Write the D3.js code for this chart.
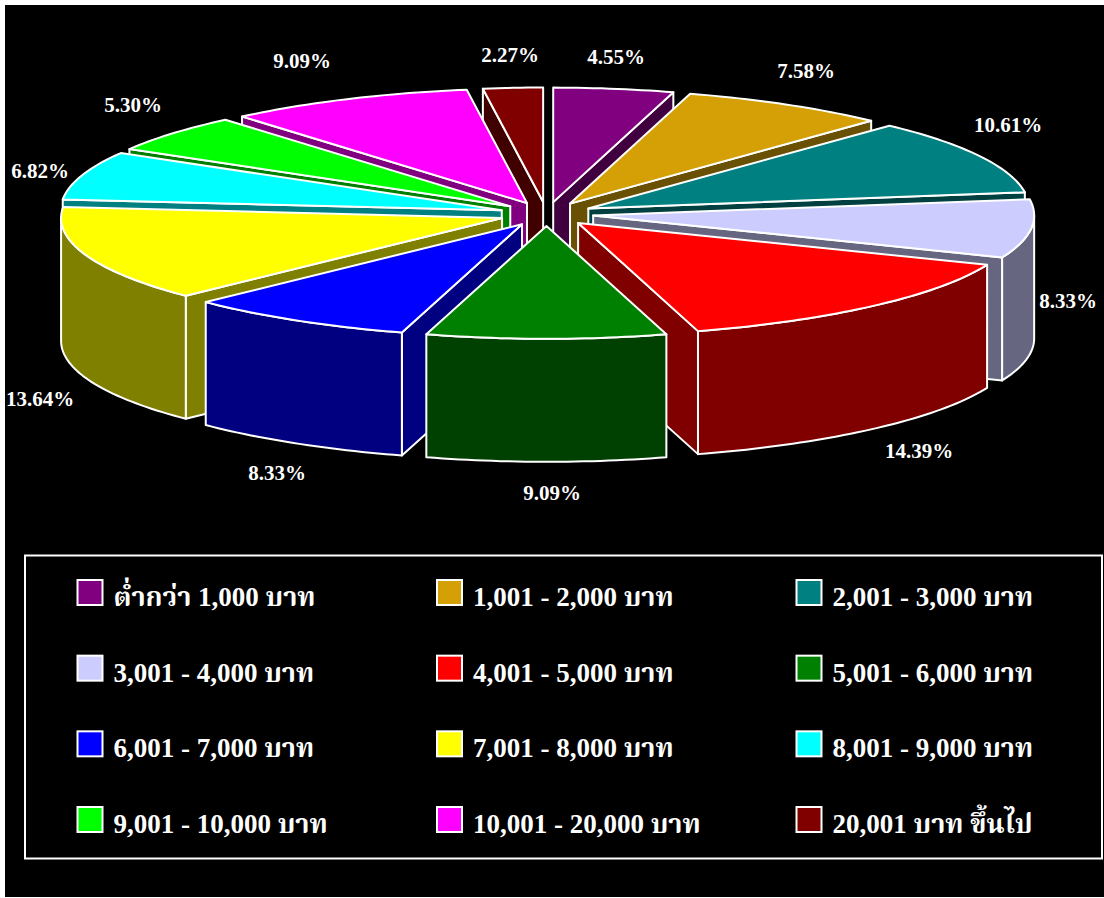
<!DOCTYPE html>
<html>
<head>
<meta charset="utf-8">
<script src="https://cdn.jsdelivr.net/npm/d3@7/dist/d3.min.js"></script>
<style>
html,body{margin:0;padding:0;background:#fff;overflow:hidden}
svg{display:block}
text{font-family:"Liberation Serif","Noto Serif Thai","Noto Sans Thai","Tinos",serif;font-weight:bold;fill:#fff}
</style>
</head>
<body>
<svg id="chart" width="1104" height="898"></svg>
<script>
const categories = ["ต่ำกว่า 1,000 บาท","1,001 - 2,000 บาท","2,001 - 3,000 บาท","3,001 - 4,000 บาท","4,001 - 5,000 บาท","5,001 - 6,000 บาท","6,001 - 7,000 บาท","7,001 - 8,000 บาท","8,001 - 9,000 บาท","9,001 - 10,000 บาท","10,001 - 20,000 บาท","20,001 บาท ขึ้นไป"];
const shares = [4.55,7.58,10.61,8.33,14.39,9.09,8.33,13.64,6.82,5.30,9.09,2.27];
const topColors = ["#800080","#D4A006","#008080","#CCCCFF","#FF0000","#008000","#0000FF","#FFFF00","#00FFFF","#00FF00","#FF00FF","#800000"];
const sideColors = ["#400040","#6A5003","#004040","#666680","#800000","#004000","#000080","#808000","#008080","#008000","#800080","#400000"];
const labelX = [616,806,1008,1068,919,552,277,40,40,133,302,510];
const labelY = [57,71,125,301,451,493,473,399,171,105,61,55];

const svg = d3.select("#chart");
svg.append("rect").attr("x",5).attr("y",5).attr("width",1099).attr("height",892).attr("fill","#000");

const cx=546.5, cy=214, rx=441, ryBack=114.5, ryFront=112.8, ex=47, ey=12, depth=123;
const sx = d3.scaleLinear().domain([-1,1]).range([-rx,rx]);
const sy = d3.scaleLinear().domain([-1,0,1]).range([-ryBack,0,ryFront]);
const pie = d3.pie().sort(null).value(d=>d).startAngle(0).endAngle(2*Math.PI);
const arcs = pie(shares).map((a,i)=>{
  const m=(a.startAngle+a.endAngle)/2;
  return {i,s:a.startAngle,e:a.endAngle,m,
    ax:cx+ex*Math.sin(m), ay:cy-ey*Math.cos(m)};
});
const line = d3.line().curve(d3.curveLinear);
// the reference's rim is a little narrower than a true ellipse near the front and back
const rim = t => Math.sin(t)*(1-0.04*Math.pow(Math.cos(t),4));
const pt = (a,t,dz=0)=>[a.ax+sx(rim(t)), a.ay+sy(-Math.cos(t))+dz];
const sample = (a,t0,t1,dz=0)=>{
  const n=Math.max(2,Math.ceil((t1-t0)/0.02));
  return d3.range(n+1).map(k=>pt(a,t0+(t1-t0)*k/n,dz));
};
const face=(g,pts,fill)=>g.append("path").attr("d",line(pts)+"Z").attr("fill",fill)
  .attr("stroke","#fff").attr("stroke-width",2).attr("stroke-linejoin","round");

const gPie = svg.append("g");
arcs.slice().sort((p,q)=>Math.cos(q.m)-Math.cos(p.m)).forEach(a=>{
  const g=gPie.append("g"), side=sideColors[a.i];
  const apex=[a.ax,a.ay], apexB=[a.ax,a.ay+depth];
  if(Math.sin(a.s)<0) face(g,[apex,pt(a,a.s),pt(a,a.s,depth),apexB],side);
  if(Math.sin(a.e)>0) face(g,[apex,pt(a,a.e),pt(a,a.e,depth),apexB],side);
  const w0=Math.max(a.s,Math.PI/2), w1=Math.min(a.e,3*Math.PI/2);
  if(w1>w0){
    face(g,sample(a,w0,w1).concat(sample(a,w0,w1,depth).reverse()),side);
  }
  face(g,[apex].concat(sample(a,a.s,a.e)),topColors[a.i]);
});

svg.append("g").selectAll("text").data(shares).join("text")
  .attr("x",(d,i)=>labelX[i]).attr("y",(d,i)=>labelY[i]+7)
  .attr("text-anchor","middle").attr("font-size",21)
  .text(d=>d.toFixed(2)+"%");

svg.append("rect").attr("x",25).attr("y",555.5).attr("width",1077).attr("height",303)
  .attr("fill","#000").attr("stroke","#fff").attr("stroke-width",2);
const colX=d3.scalePoint().domain([0,1,2]).range([77.5,796.5]);
const rowY=d3.scalePoint().domain([0,1,2,3]).range([580,807]);
const lg=svg.append("g").selectAll("g").data(categories).join("g")
  .attr("transform",(d,i)=>`translate(${colX(i%3)},${rowY(Math.floor(i/3))})`);
lg.append("rect").attr("width",25).attr("height",25)
  .attr("fill",(d,i)=>topColors[i]).attr("stroke","#fff").attr("stroke-width",2);
lg.append("text").attr("x",36).attr("y",26).attr("font-size",27).text(d=>d);
</script>
</body>
</html>
